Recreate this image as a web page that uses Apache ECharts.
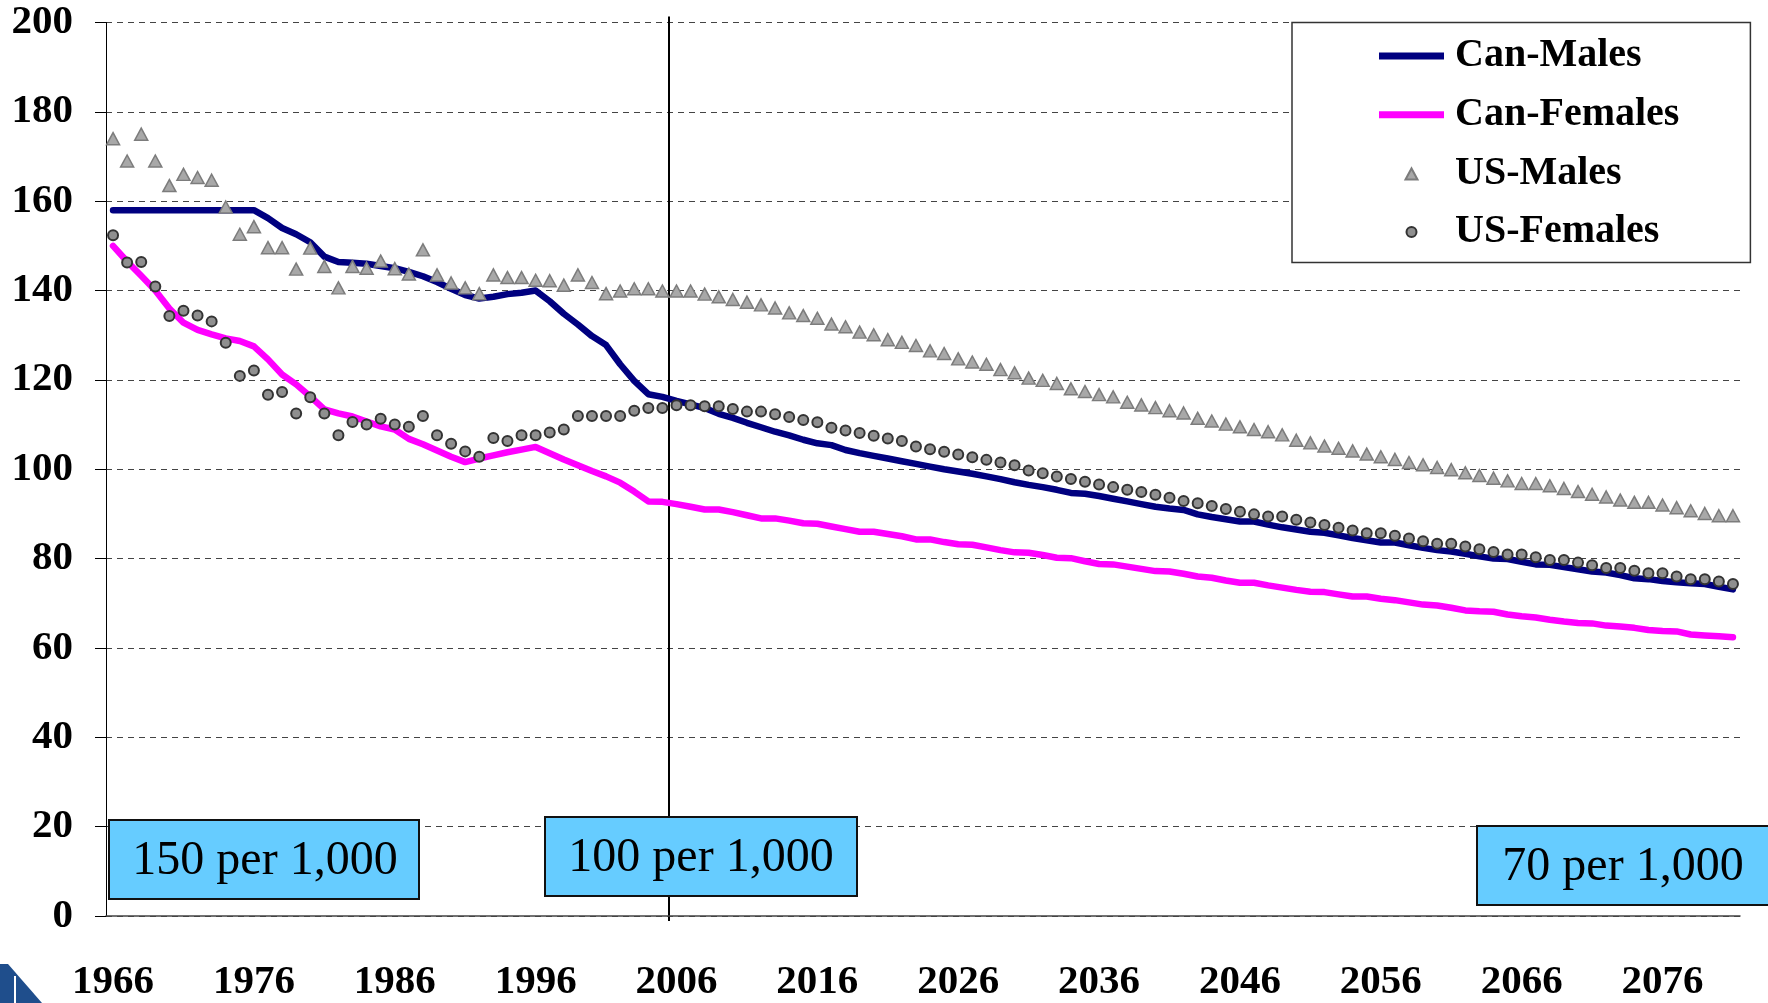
<!DOCTYPE html>
<html>
<head>
<meta charset="utf-8">
<title>Infant mortality per 1,000</title>
<script src="https://cdn.jsdelivr.net/npm/echarts@6/dist/echarts.min.js"></script>
<style>
  html, body { margin: 0; padding: 0; background: #fff; }
  #main { width: 1768px; height: 1003px; }
</style>
</head>
<body>
<div id="main"></div>
<script>
// years 1966 .. 2081, one category each
var years = [];
for (var y = 1966; y <= 2081; y++) years.push(String(y));

var canMales = [
  158, 158, 158, 158, 158, 158, 158, 158, 158, 158,
  158, 156.2, 154, 152.6, 150.8, 147.6, 146.4, 146.2, 146, 145.5,
  145, 144.2, 143.2, 141.9, 140.4, 139, 138.2, 138.6, 139.2, 139.5,
  140, 137.6, 134.8, 132.4, 129.8, 127.8, 123.5, 119.8, 116.8, 116.2,
  115.3, 114.5, 113.7, 112.4, 111.5, 110.4, 109.4, 108.4, 107.6, 106.6,
  105.8, 105.4, 104.3, 103.6, 103, 102.4, 101.8, 101.2, 100.6, 100,
  99.5, 99, 98.4, 97.8, 97.1, 96.5, 96, 95.4, 94.7, 94.5,
  94, 93.4, 92.8, 92.2, 91.6, 91.2, 90.9, 89.9, 89.3, 88.8,
  88.3, 88.3, 87.6, 87, 86.5, 86, 85.8, 85.2, 84.6, 84.1,
  83.6, 83.6, 83, 82.4, 81.9, 81.6, 81.1, 80.5, 80, 79.9,
  79.3, 78.7, 78.6, 78.1, 77.6, 77.1, 76.9, 76.3, 75.6, 75.4,
  75, 74.7, 74.5, 74.3, 73.7, 73.1
];

var canFemales = [
  150, 146.5, 143.3, 140, 136, 132.8, 131.2, 130.2, 129.3, 128.7,
  127.5, 124.6, 121.2, 119, 116.3, 113.4, 112.5, 111.8, 110.7, 109.6,
  108.9, 106.8, 105.6, 104.2, 102.8, 101.6, 102.4, 103.1, 103.8, 104.4,
  105, 103.6, 102.2, 100.9, 99.6, 98.4, 97, 95, 92.8, 92.7,
  92.2, 91.6, 91, 91, 90.4, 89.7, 89, 89, 88.5, 87.9,
  87.8, 87.2, 86.6, 86, 86, 85.5, 85, 84.3, 84.3, 83.7,
  83.2, 83.1, 82.5, 81.9, 81.4, 81.3, 80.8, 80.2, 80.1, 79.4,
  78.8, 78.7, 78.2, 77.7, 77.2, 77.1, 76.6, 76, 75.7, 75.1,
  74.6, 74.6, 74, 73.5, 73, 72.6, 72.5, 72, 71.5, 71.5,
  71, 70.7, 70.2, 69.7, 69.5, 69, 68.4, 68.2, 68.1, 67.5,
  67.1, 66.8, 66.3, 65.9, 65.6, 65.5, 65, 64.8, 64.5, 64,
  63.8, 63.7, 63, 62.8, 62.6, 62.4
];

var usMales = [
  174, 169, 175, 169, 163.5, 166, 165.3, 164.7, 158.7, 152.6,
  154.3, 149.6, 149.6, 144.8, 149.5, 145.4, 140.6, 145.4, 145, 146.6,
  144.9, 143.7, 149.1, 143.5, 141.7, 140.6, 139.3, 143.5, 142.9, 142.9,
  142.3, 142.2, 141.2, 143.5, 141.8, 139.3, 139.9, 140.4, 140.4, 139.9,
  139.9, 139.9, 139.2, 138.6, 138, 137.4, 136.8, 136.1, 135, 134.4,
  133.8, 132.5, 131.9, 130.7, 130.1, 129, 128.4, 127.7, 126.5, 125.9,
  124.7, 124, 123.5, 122.3, 121.6, 120.4, 119.9, 119.2, 118, 117.4,
  116.7, 116.2, 115, 114.4, 113.8, 113.1, 112.6, 111.4, 110.8, 110.1,
  109.5, 108.9, 108.4, 107.7, 106.5, 105.9, 105.2, 104.7, 104.1, 103.4,
  102.8, 102.2, 101.5, 101, 100.4, 99.9, 99.2, 98.6, 98, 97.4,
  96.8, 96.8, 96.3, 95.7, 95, 94.4, 93.8, 93.1, 92.6, 92.6,
  92, 91.4, 90.7, 90.1, 89.6, 89.6
];

var usFemales = [
  152.4, 146.3, 146.4, 140.9, 134.3, 135.5, 134.4, 133.1, 128.3, 120.9,
  122.1, 116.7, 117.3, 112.5, 116.1, 112.5, 107.6, 110.6, 110, 111.3,
  110, 109.5, 111.9, 107.6, 105.7, 104, 102.8, 107, 106.3, 107.6,
  107.6, 108.2, 108.9, 111.9, 111.9, 111.9, 111.9, 113.1, 113.7, 113.7,
  114.3, 114.3, 114.1, 114.1, 113.5, 112.9, 112.9, 112.3, 111.7, 111,
  110.5, 109.3, 108.7, 108.1, 107.5, 106.9, 106.3, 105.1, 104.5, 103.9,
  103.3, 102.7, 102.1, 101.5, 100.9, 99.7, 99.1, 98.4, 97.8, 97.2,
  96.6, 96, 95.4, 94.9, 94.3, 93.6, 92.9, 92.4, 91.8, 91.1,
  90.5, 89.9, 89.4, 89.4, 88.7, 88.1, 87.5, 86.9, 86.3, 85.7,
  85.7, 85.1, 84.5, 83.9, 83.3, 83.3, 82.7, 82.1, 81.5, 80.9,
  80.9, 80.3, 79.7, 79.7, 79.1, 78.5, 77.9, 77.9, 77.3, 76.7,
  76.7, 76, 75.4, 75.4, 74.9, 74.3
];

// text boxes along the bottom
var notes = ['150 per 1,000', '100 per 1,000', '70 per 1,000'];

var serif = '"Liberation Serif", "Times New Roman", serif';

// legend icons: a 65x13 box (corner moves) so the marker keeps its size
var iconLine = 'path://M0,0H65V7H0Z';
var iconTri = 'path://M0,0M65,13M26.5,12.5L32.5,1.5L38.5,12.5Z';
var iconDot = 'path://M0,0M65,13M27.5,6.5A5,5,0,1,1,37.5,6.5A5,5,0,1,1,27.5,6.5Z';

var chart = echarts.init(document.getElementById('main'));

var option = {
  animation: false,
  backgroundColor: '#fff',
  grid: { left: 106, right: 28, top: 22.5, bottom: 86 },
  legend: {
    orient: 'vertical',
    left: 1292,
    top: 22.5,
    padding: [11.5, 71, 8.5, 86],
    itemWidth: 65,
    itemHeight: 13,
    itemGap: 14.7,
    backgroundColor: '#fff',
    borderColor: '#333',
    borderWidth: 1.5,
    borderRadius: 0,
    textStyle: {
      fontFamily: serif, fontWeight: 'bold', fontSize: 40,
      color: '#000', lineHeight: 44, padding: [0, 0, 0, 6]
    },
    data: [
      { name: 'Can-Males', icon: iconLine },
      { name: 'Can-Females', icon: iconLine },
      { name: 'US-Males', icon: iconTri },
      { name: 'US-Females', icon: iconDot }
    ]
  },
  xAxis: {
    type: 'category',
    data: years,
    boundaryGap: true,
    axisLine: { lineStyle: { color: '#444', width: 1.5 } },
    axisTick: { interval: 4, length: 13, lineStyle: { color: '#444', width: 1 } },
    axisLabel: {
      interval: 9, margin: 46,
      fontFamily: serif, fontWeight: 'bold', fontSize: 41, color: '#000'
    },
    splitLine: { show: false }
  },
  yAxis: {
    type: 'value',
    min: 0, max: 200, interval: 20,
    axisLine: { show: true, lineStyle: { color: '#000', width: 1 } },
    axisTick: { show: true, length: 11, lineStyle: { color: '#000' } },
    axisLabel: {
      margin: 33,
      fontFamily: serif, fontWeight: 'bold', fontSize: 41, color: '#000'
    },
    splitLine: { lineStyle: { color: '#444', width: 1, type: [6, 5] } }
  },
  series: [
    {
      name: 'Can-Males', type: 'line', data: canMales,
      symbol: 'none', color: '#000080',
      lineStyle: { width: 6.5, color: '#000080', join: 'round', cap: 'round' },
      z: 3
    },
    {
      name: 'Can-Females', type: 'line', data: canFemales,
      symbol: 'none', color: '#ff00ff',
      lineStyle: { width: 6.5, color: '#ff00ff', join: 'round', cap: 'round' },
      z: 3
    },
    {
      name: 'US-Males', type: 'scatter', data: usMales,
      symbol: 'triangle', symbolSize: [13, 12],
      itemStyle: { color: '#a8a8a8', borderColor: '#7c7c7c', borderWidth: 1.5, opacity: 1 },
      z: 4
    },
    {
      name: 'US-Females', type: 'scatter', data: usFemales,
      symbol: 'circle', symbolSize: 10,
      itemStyle: { color: '#8f8f8f', borderColor: '#333', borderWidth: 2, opacity: 1 },
      z: 5
    }
  ]
};

chart.setOption(option);

// vertical marker on the 2005/2006 boundary
var x05 = chart.convertToPixel({ xAxisIndex: 0 }, '2005');
var x06 = chart.convertToPixel({ xAxisIndex: 0 }, '2006');
var lineX = Math.round((x05 + x06) / 2);
var yTop = chart.convertToPixel({ yAxisIndex: 0 }, 200);
var yBot = chart.convertToPixel({ yAxisIndex: 0 }, 0);

function noteBox(x, y, w, h, label, cx, cy) {
  return [
    { type: 'rect', shape: { x: x, y: y, width: w, height: h },
      style: { fill: '#66ccff', stroke: '#111', lineWidth: 2 } },
    { type: 'text', x: cx, y: cy,
      style: { text: label, fill: '#000', font: '48px ' + serif,
               align: 'center', verticalAlign: 'middle' } }
  ];
}

// box "100 per 1,000" sits on the marker, so the marker is cut around it
var boxB = { x: 545, y: 817, w: 312, h: 79 };

chart.setOption({
  graphic: [
    { type: 'line',
      shape: { x1: lineX, y1: yTop - 6, x2: lineX, y2: boxB.y },
      style: { stroke: '#000', lineWidth: 2 } },
    { type: 'line',
      shape: { x1: lineX, y1: boxB.y + boxB.h, x2: lineX, y2: yBot + 5 },
      style: { stroke: '#000', lineWidth: 2 } }
  ].concat(
    noteBox(109, 820, 310, 79, notes[0], 265, 861),
    noteBox(boxB.x, boxB.y, boxB.w, boxB.h, notes[1], 701, 858),
    noteBox(1477, 826, 310, 79, notes[2], 1623, 867),
    [
      // corner of the logo at bottom left
      { type: 'polygon',
        shape: { points: [[0, 964], [8, 964], [42, 1003], [0, 1003]] },
        style: { fill: '#1f4e8c' } },
      { type: 'rect', shape: { x: 14, y: 976, width: 2, height: 27 },
        style: { fill: '#fff' } }
    ]
  )
});
</script>
</body>
</html>
